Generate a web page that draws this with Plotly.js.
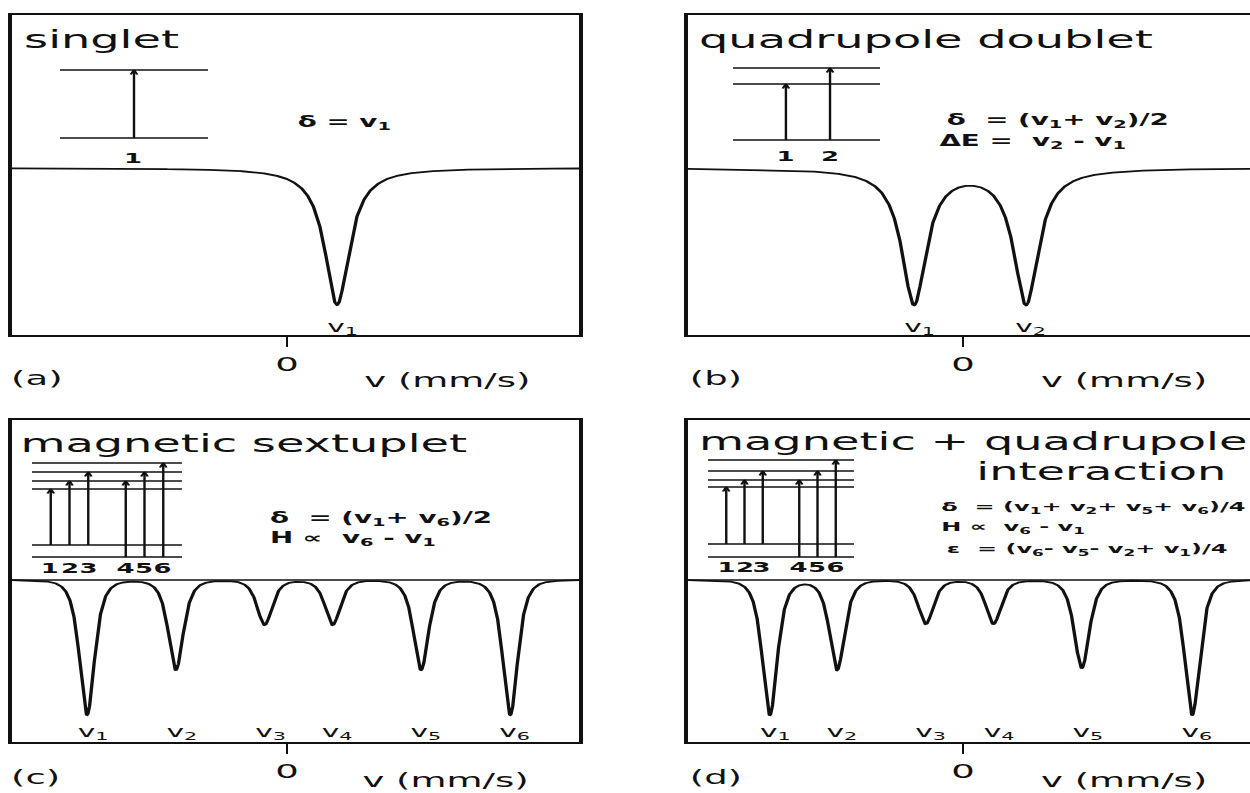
<!DOCTYPE html>
<html>
<head>
<meta charset="utf-8">
<script src="https://cdn.plot.ly/plotly-3.0.1.min.js"></script>
<style>
  html, body { margin: 0; padding: 0; background: #fff; overflow: hidden; }
  #wrap { width: 1250px; height: 793px; overflow: hidden; }
  /* the figure is drawn narrow and widened, giving the broad lettering of the plate */
  #chart { width: 676px; height: 793px; transform: scaleX(1.84911); transform-origin: 0 0; }
</style>
</head>
<body>
<div id="wrap"><div id="chart"></div></div>
<script>
const FONT = 'DejaVu Sans, Verdana, sans-serif';
const INK = '#111';

// ---- absorption lines: positions (mm/s) and depths (% absorption)
const singletPositions = [1.25];
const singletDepths = [13.7];
const doubletPositions = [-1.225, 1.575];
const doubletDepths = [13.5, 13.5];
const sextetPositions = [-5.0, -2.78, -0.56, 1.14, 3.35, 5.58];
const sextetDepths = [13.5, 9.0, 4.5, 4.5, 9.0, 13.5];
const combinedPositions = [-4.83, -3.15, -0.93, 0.76, 2.97, 5.73];
const combinedDepths = [13.5, 9.0, 4.4, 4.4, 8.8, 13.5];
const lineLabels = ['v<sub>1</sub>', 'v<sub>2</sub>', 'v<sub>3</sub>', 'v<sub>4</sub>', 'v<sub>5</sub>', 'v<sub>6</sub>'];
const tickValues = [0];
const tickLabels = ['0'];

// ---- nuclear level schemes (relative energies) and the transitions between them
const singletLevels = [0, 68];
const singletFrom = [0];
const singletTo = [68];
const doubletLevels = [0, 56, 72];
const doubletFrom = [0, 0];
const doubletTo = [56, 72];
const sextetLevels = [0, 12, 68, 76, 85, 94];
const sextetFrom = [12, 12, 12, 0, 0, 0];
const sextetTo = [68, 76, 85, 76, 85, 94];
const combinedLevels = [0, 13, 70, 77, 86, 97];
const combinedFrom = [13, 13, 13, 0, 0, 0];
const combinedTo = [70, 77, 86, 77, 86, 97];
const transitionNames = ['1', '2', '3', '4', '5', '6'];

// ---- page geometry (1250 x 793 frame), converted to paper fractions
const REF_W = 1250, REF_H = 793;
const fx = x => x / REF_W;
const fy = y => 1 - y / REF_H;
const PX_PER_MM = 40;
const sixSlots = [0.125, 0.25, 0.375, 0.625, 0.75, 0.875];

const panels = [
  {
    n: 1, box: [12, 579, 15, 335], zero: 287, yRange: [83.3, 115.3], closed: true,
    positions: singletPositions, depths: singletDepths, hwhm: 0.37, power: 1, baseline: false,
    labelY: 327, tag: '(a)', tagAt: [10, 378], unitAt: [362, 380],
    titles: [['singlet', 22, 39]],
    formulas: [['δ = v<sub>1</sub>', 295, 123]], formulaSize: 15,
    scheme: { levels: singletLevels, from: singletFrom, to: singletTo, slots: [0.5],
              xBox: [60, 208], yBox: [60, 150], e0: 138, labelY: 158 }
  },
  {
    n: 2, box: [688, 1256, 15, 335], zero: 963, yRange: [83.3, 115.3], closed: false,
    positions: doubletPositions, depths: doubletDepths, hwhm: 0.37, power: 1, baseline: false,
    labelY: 327, tag: '(b)', tagAt: [688, 378], unitAt: [1040, 380],
    titles: [['quadrupole doublet', 697, 39]],
    formulas: [['δ \u00a0= (v<sub>1</sub>+ v<sub>2</sub>)/2', 945, 121],
               ['ΔE = \u00a0v<sub>2</sub> - v<sub>1</sub>', 937, 142]], formulaSize: 15,
    scheme: { levels: doubletLevels, from: doubletFrom, to: doubletTo, slots: [0.36, 0.66],
              xBox: [733, 880], yBox: [60, 150], e0: 140, labelY: 156 }
  },
  {
    n: 3, box: [12, 579, 420, 742], zero: 287, yRange: [83.8, 116.0], closed: true,
    positions: sextetPositions, depths: sextetDepths, hwhm: 0.34, power: 2, baseline: true,
    labelY: 732, tag: '(c)', tagAt: [10, 777], unitAt: [360, 780],
    titles: [['magnetic sextuplet', 18, 443]],
    formulas: [['δ \u00a0= (v<sub>1</sub>+ v<sub>6</sub>)/2', 268, 518],
               ['H ∝ \u00a0v<sub>6</sub> - v<sub>1</sub>', 268, 538]], formulaSize: 15,
    scheme: { levels: sextetLevels, from: sextetFrom, to: sextetTo, slots: sixSlots,
              xBox: [32, 182], yBox: [455, 575], e0: 557, labelY: 568 }
  },
  {
    n: 4, box: [688, 1256, 420, 742], zero: 963, yRange: [83.8, 116.0], closed: false,
    positions: combinedPositions, depths: combinedDepths, hwhm: 0.34, power: 2, baseline: true,
    labelY: 732, tag: '(d)', tagAt: [688, 777], unitAt: [1040, 780],
    titles: [['magnetic + quadrupole', 697, 442], ['interaction', 975, 471]],
    formulas: [['δ \u00a0= (v<sub>1</sub>+ v<sub>2</sub>+ v<sub>5</sub>+ v<sub>6</sub>)/4', 940, 507],
               ['H ∝ \u00a0v<sub>6</sub> - v<sub>1</sub>', 940, 527],
               ['ε \u00a0= (v<sub>6</sub>- v<sub>5</sub>- v<sub>2</sub>+ v<sub>1</sub>)/4', 944, 549]], formulaSize: 13,
    scheme: { levels: combinedLevels, from: combinedFrom, to: combinedTo, slots: sixSlots,
              xBox: [708, 854], yBox: [450, 575], e0: 557, labelY: 567 }
  }
];

const data = [];
const annotations = [];
const layout = {
  width: 676, height: 793,
  margin: { l: 0, r: 0, t: 0, b: 0 },
  paper_bgcolor: '#fff', plot_bgcolor: 'rgba(0,0,0,0)',
  showlegend: false,
  font: { family: FONT, color: INK },
  annotations: annotations
};

const axName = (k, n) => (n === 1 ? k + 'axis' : k + 'axis' + n);
const axId = (k, n) => (n === 1 ? k : k + n);

// transmission with a sum of (generalised) Lorentzian dips
function spectrum(positions, depths, hwhm, power, v0, v1) {
  const N = 2400, xs = [], ys = [];
  for (let i = 0; i <= N; i++) {
    const v = v0 + (v1 - v0) * i / N;
    let a = 0;
    positions.forEach((p, k) => {
      const u = (v - p) / hwhm;
      a += depths[k] / Math.pow(1 + u * u, power);
    });
    xs.push(v);
    ys.push(100 - a);
  }
  return { xs, ys };
}

function textNote(x, y, text, size, extra) {
  return Object.assign({ xref: 'paper', yref: 'paper', x: fx(x), y: fy(y), text: text,
    showarrow: false, xanchor: 'left', yanchor: 'middle', borderpad: 0,
    font: { family: FONT, size: size, color: INK } }, extra || {});
}

panels.forEach(p => {
  const xid = axId('x', p.n), yid = axId('y', p.n);
  const right = Math.min(p.box[1], REF_W);
  const v0 = (p.box[0] - p.zero) / PX_PER_MM;
  const v1 = (right - p.zero) / PX_PER_MM;

  layout[axName('x', p.n)] = {
    domain: [fx(p.box[0]), fx(right)], range: [v0, v1], anchor: yid,
    showline: true, linecolor: INK, linewidth: 2, mirror: true,
    showgrid: false, zeroline: false, fixedrange: true,
    tickmode: 'array', tickvals: tickValues, ticktext: tickLabels,
    ticks: 'outside', ticklen: 10, tickwidth: 1.5, tickcolor: INK,
    tickfont: { family: FONT, size: 20, color: INK }
  };
  layout[axName('y', p.n)] = {
    domain: [fy(p.box[3]), fy(p.box[2])], range: p.yRange, anchor: xid,
    showline: true, linecolor: INK, linewidth: 2, mirror: p.closed,
    showgrid: false, zeroline: false, showticklabels: false, ticks: '', fixedrange: true
  };

  if (p.baseline) {
    data.push({ type: 'scatter', mode: 'lines', x: [v0, v1], y: [100, 100],
      xaxis: xid, yaxis: yid, line: { color: INK, width: 1.7 }, hoverinfo: 'skip' });
  }
  const s = spectrum(p.positions, p.depths, p.hwhm, p.power, v0, v1);
  data.push({ type: 'scatter', mode: 'lines', x: s.xs, y: s.ys,
    xaxis: xid, yaxis: yid, line: { color: INK, width: 1.8 }, hoverinfo: 'skip' });

  // line names under each dip
  p.positions.forEach((pos, i) => {
    annotations.push({ xref: xid, yref: 'paper', x: pos, y: fy(p.labelY),
      text: lineLabels[i], showarrow: false, xanchor: 'center', yanchor: 'middle', xshift: 3,
      borderpad: 0, font: { family: FONT, size: 16, color: INK } });
  });

  // panel tag and velocity unit
  annotations.push(textNote(p.tagAt[0], p.tagAt[1], p.tag, 20));
  annotations.push(textNote(p.unitAt[0], p.unitAt[1], 'v (mm/s)', 20));

  // headings
  p.titles.forEach(t => annotations.push(textNote(t[1], t[2], t[0], 25)));

  // parameter relations
  p.formulas.forEach(f => annotations.push(textNote(f[1], f[2], f[0], p.formulaSize,
    { font: { family: FONT, size: p.formulaSize, color: INK, weight: 'bold' } })));

  // level scheme in its own small axes
  const sc = p.scheme;
  const m = p.n + 4;
  const sx = axId('x', m), sy = axId('y', m);
  layout[axName('x', m)] = { domain: [fx(sc.xBox[0]), fx(sc.xBox[1])], range: [0, 1],
    anchor: sy, visible: false, fixedrange: true };
  layout[axName('y', m)] = { domain: [fy(sc.yBox[1]), fy(sc.yBox[0])],
    range: [sc.e0 - sc.yBox[1], sc.e0 - sc.yBox[0]], anchor: sx, visible: false, fixedrange: true };

  const lx = [], ly = [];
  sc.levels.forEach(e => { lx.push(0, 1, null); ly.push(e, e, null); });
  data.push({ type: 'scatter', mode: 'lines', x: lx, y: ly, xaxis: sx, yaxis: sy,
    line: { color: INK, width: 1.5 }, hoverinfo: 'skip', cliponaxis: false });

  // transition arrows: shaft from the lower to the upper level, open chevron at the top
  const ax = [], ay = [];
  const headW = 0.022, headH = 4.5;
  sc.slots.forEach((slot, i) => {
    ax.push(slot, slot, null, slot - headW, slot, slot + headW, null);
    ay.push(sc.from[i], sc.to[i], null, sc.to[i] - headH, sc.to[i], sc.to[i] - headH, null);
    annotations.push({ xref: sx, yref: 'paper', x: slot, y: fy(sc.labelY),
      text: transitionNames[i], showarrow: false, xanchor: 'center', yanchor: 'middle', borderpad: 0,
      font: { family: FONT, size: 14, color: INK, weight: 'bold' } });
  });
  data.push({ type: 'scatter', mode: 'lines', x: ax, y: ay, xaxis: sx, yaxis: sy,
    line: { color: INK, width: 1.3 }, hoverinfo: 'skip', cliponaxis: false });
});

Plotly.newPlot('chart', data, layout, { staticPlot: true, displayModeBar: false });
</script>
</body>
</html>
